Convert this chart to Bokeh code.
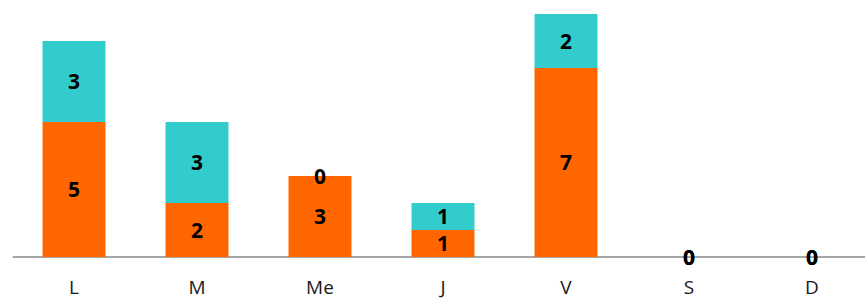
from bokeh.plotting import figure
from bokeh.models import ColumnDataSource, FixedTicker, Range1d, Span
from bokeh.core.properties import value
from bokeh.embed import file_html
from bokeh.resources import INLINE

categories = ["L", "M", "Me", "J", "V", "S", "D"]
orange_vals = [5, 2, 3, 1, 7, 0, 0]
cyan_vals = [3, 3, 0, 1, 2, 0, 0]

ORANGE = "#FF6600"
CYAN = "#33CCCC"

xs = [i + 0.5 for i in range(len(categories))]
src = ColumnDataSource(dict(
    x=xs,
    orange=orange_vals,
    cyan=cyan_vals,
    o_mid=[o / 2 for o in orange_vals],
    c_mid=[o + c / 2 for o, c in zip(orange_vals, cyan_vals)],
    o_lab=[str(o) for o in orange_vals],
    c_lab=[str(c) for c in cyan_vals],
))

p = figure(frame_width=853, frame_height=270, output_backend="svg", toolbar_location=None,
           x_range=Range1d(0, 853 / 123), y_range=Range1d(-0.5, 9.5),
           min_border_left=12, min_border_right=0, min_border_top=0, min_border_bottom=0)
p.outline_line_color = None
p.background_fill_color = "white"
p.border_fill_color = "white"
p.xgrid.visible = False
p.ygrid.visible = False
p.yaxis.visible = False

p.add_layout(Span(location=0, dimension="width", line_color="#888888",
                  line_width=1.5, level="underlay"))

p.vbar_stack(["orange", "cyan"], x="x", width=0.512, color=[ORANGE, CYAN],
             line_color=None, source=src)

for col, lab in [("o_mid", "o_lab"), ("c_mid", "c_lab")]:
    p.text(x="x", y=col, text=lab, source=src,
           text_align="center", text_baseline="middle",
           text_font=value("Open Sans"), text_font_style="bold",
           text_font_size="21px", text_color="#000000")

ax = p.xaxis[0]
ax.ticker = FixedTicker(ticks=xs)
ax.major_label_overrides = {x: c for x, c in zip(xs, categories)}
ax.major_tick_line_color = None
ax.major_tick_out = 0
ax.major_tick_in = 0
ax.minor_tick_line_color = None
ax.axis_line_color = None
ax.major_label_text_font = "Open Sans"
ax.major_label_text_font_size = "19px"
ax.major_label_text_color = "#1a1a1a"
ax.major_label_standoff = 3

open("out.html", "w").write(file_html(p, INLINE))
